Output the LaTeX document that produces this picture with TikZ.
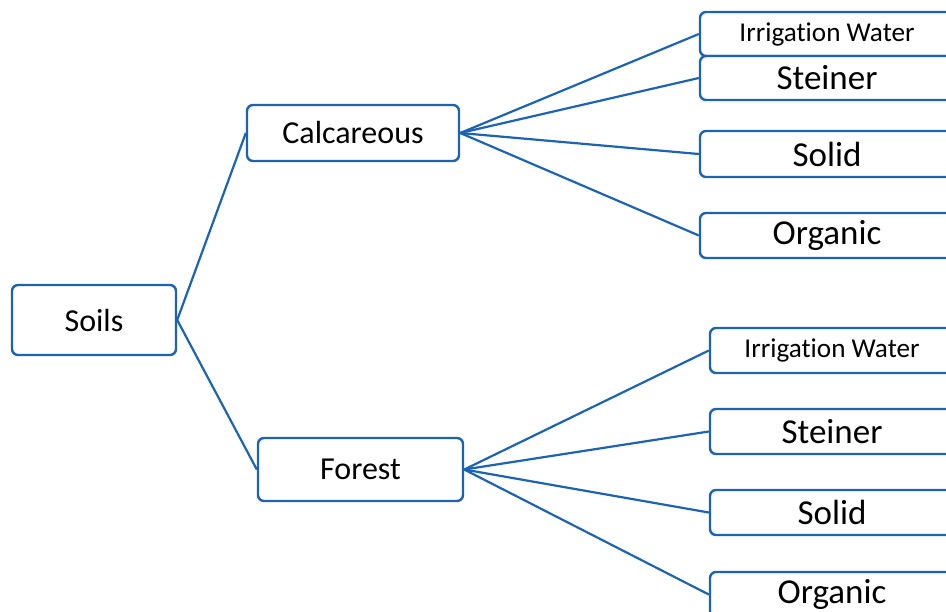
\documentclass[tikz,border=0pt]{standalone}
\usepackage{fontspec}
\setmainfont{Carlito}[Ligatures=NoCommon]
\usetikzlibrary{positioning}
\definecolor{linkblue}{RGB}{28,100,178}

\tikzset{
  box/.style={draw=linkblue, line width=1.2pt, rounded corners=3pt, fill=white, inner sep=0pt},
  link/.style={draw=linkblue, line width=1.1pt},
  midtext/.style={font=\fontsize{16}{19}\selectfont},
  bigtext/.style={font=\fontsize{17.5}{21}\selectfont},
  smalltext/.style={font=\fontsize{13.6}{16}\selectfont},
}

\begin{document}
\begin{tikzpicture}[x=0.5pt, y=-0.5pt]
  \clip (0,0) rectangle (946,611);
  \node[box, midtext, minimum width=82pt, minimum height=35pt] (soils) at (94,320) {Soils};
  \node[box, midtext, minimum width=106pt, minimum height=28pt] (calc) at (353,133) {Calcareous};
  \node[box, midtext, minimum width=102.5pt, minimum height=31.5pt] (forest) at (360.5,469.5) {Forest};
  \draw[link] (soils.east) -- (calc.west);
  \draw[link] (soils.east) -- (forest.west);
  \foreach \n/\t/\y/\h/\f in {ca1/Irrigation Water/34/22/smalltext, ca2/Steiner/78/22/bigtext,
      ca3/Solid/154/23/bigtext, ca4/Organic/235.5/22.5/bigtext} {
    \node[box, \f, minimum width=127pt, minimum height=\h pt] (\n) at (827,\y) {\t};
    \draw[link] (calc.east) -- (\n.west);
  }
  \foreach \n/\t/\y/\f in {fo1/Irrigation Water/350.5/smalltext, fo2/Steiner/431.5/bigtext,
      fo3/Solid/512.5/bigtext, fo4/Organic/594.5/bigtext} {
    \node[box, \f, minimum width=122pt, minimum height=22.5pt] (\n) at (832,\y) {\t};
    \draw[link] (forest.east) -- (\n.west);
  }
\end{tikzpicture}
\end{document}
